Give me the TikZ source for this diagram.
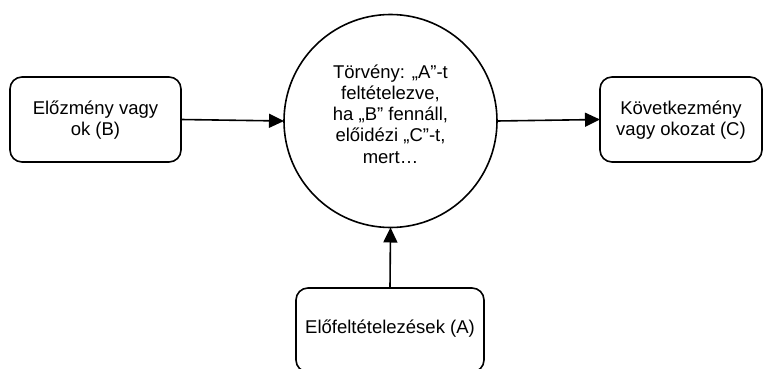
\documentclass[tikz,border=0pt]{standalone}
\usepackage{fontspec}
\setmainfont{Liberation Sans}
\usetikzlibrary{arrows.meta}
\begin{document}
\begin{tikzpicture}[x=1pt,y=-1pt,
  every node/.style={font=\fontsize{18.5}{21.2}\selectfont, align=center, inner sep=0pt, outer sep=0pt},
  rbox/.style={draw, line width=1.6pt, rounded corners=12pt},
  law/.style={draw, circle, line width=1.6pt},
  conn/.style={line width=1.6pt, -{Triangle[length=15pt,width=14pt]}}]
  \useasboundingbox (0,0) rectangle (763,369);
  \node[rbox, minimum width=171pt, minimum height=85pt, text height=32.4pt, text depth=0pt] (prev) at (95.5,119.5) {Előzmény vagy\\ok (B)};
  \node[law, minimum size=213pt, text height=84pt, text depth=0pt] (law) at (390.5,121) {Törvény: „A”-t\\feltételezve,\\ha „B” fennáll,\\előidézi „C”-t,\\mert…};
  \node[rbox, minimum width=162pt, minimum height=85pt, text height=32.4pt, text depth=0pt] (cons) at (681,119.5) {Következmény\\vagy okozat (C)};
  \node[rbox, minimum width=188pt, minimum height=84pt, text height=6.6pt, text depth=0pt] (pre) at (390,330) {Előfeltételezések (A)};
  \draw[conn] (prev.east) -- (law.west);
  \draw[conn] (law.east) -- (cons.west);
  \draw[conn] (pre.north) -- (law.south);
\end{tikzpicture}
\end{document}
